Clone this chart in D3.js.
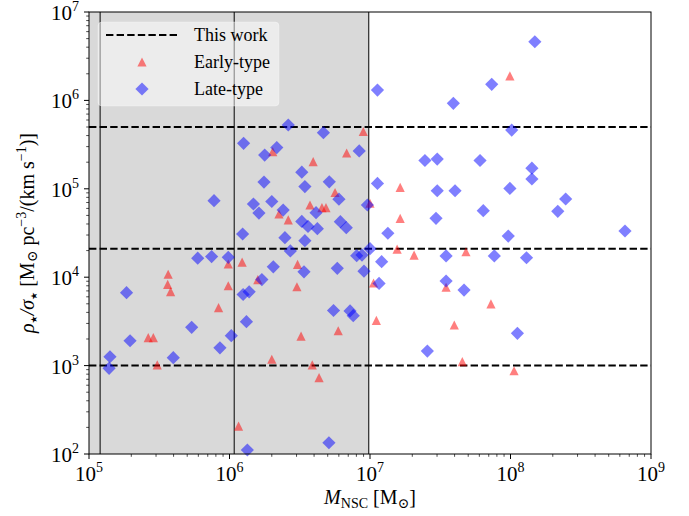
<!DOCTYPE html>
<html>
<head>
<meta charset="utf-8">
<script src="https://cdn.jsdelivr.net/npm/d3@7"></script>
<style>
  body { margin: 0; background: #fff; }
  text { font-family: "Liberation Serif", "DejaVu Serif", serif; fill: #000; }
</style>
</head>
<body>
<div id="chart"></div>
<script>
// early-type nuclei (triangles): mass [Msun], rho/sigma
var earlyMass = [9.9e7, 8.96e6, 2.03e6, 6.82e6, 3.94e6, 5.64e6, 3.74e6, 4.55e6, 4.86e6, 1.0e7,
  2.25e6, 2.62e6, 9.8e5, 1.23e6, 3.05e6, 3.66e5, 3.63e5, 3.81e5, 9.8e5, 1.59e6,
  3.02e6, 1.06e7, 8.36e5, 1.11e7, 2.64e5, 2.87e5, 3.23e6, 5.94e6, 3.06e5, 2.0e6,
  3.88e6, 4.34e6, 1.16e6, 1.64e7, 1.64e7, 1.56e7, 2.06e7, 4.82e7, 3.48e7, 7.26e7,
  3.98e7, 4.54e7, 1.06e8];
var earlyRho = [1.89e6, 4.45e5, 2.63e5, 2.54e5, 2.03e5, 9.08e4, 6.56e4, 6.14e4, 6.14e4, 6.86e4,
  5.19e4, 4.44e4, 1.41e4, 1.48e4, 1.40e4, 1.08e4, 8.3e3, 6.85e3, 8.0e3, 9.4e3,
  7.8e3, 8.6e3, 4.52e3, 3.25e3, 2.07e3, 2.07e3, 2.16e3, 2.48e3, 1.02e3, 1.18e3,
  1.02e3, 730, 207, 1.04e5, 4.64e4, 2.08e4, 1.78e4, 1.94e4, 7.7e3, 5.0e3,
  2.88e3, 1.11e3, 875];

// late-type nuclei (diamonds)
var lateMass = [1.49e8, 1.13e7, 7.35e7, 3.92e7, 1.02e8, 2.62e6, 4.66e6, 1.26e6, 1.78e6, 2.17e6,
  8.38e6, 2.46e7, 3.01e7, 6.07e7, 1.42e8, 1.42e8, 3.27e6, 1.76e6, 3.44e6, 5.13e6,
  1.13e7, 3.01e7, 4.03e7, 9.9e7, 2.47e8, 2.17e8, 6.4e7, 7.76e5, 1.48e6, 2.0e6,
  6.01e6, 9.58e6, 1.62e6, 2.41e6, 4.13e6, 2.95e7, 3.27e6, 3.62e6, 4.22e6, 6.15e6,
  6.78e6, 1.24e6, 2.48e6, 3.44e6, 1.34e7, 9.64e7, 6.53e8, 2.71e6, 1.0e7, 5.94e5,
  7.46e5, 9.8e5, 8.04e6, 8.77e6, 1.21e7, 3.48e7, 7.67e7, 1.3e8, 2.05e6, 3.39e6,
  5.85e6, 9.06e6, 1.85e5, 1.7e6, 1.16e7, 3.48e7, 4.67e7, 1.25e6, 1.38e6, 5.5e6,
  7.21e6, 7.6e6, 1.32e6, 5.38e5, 1.96e5, 1.03e6, 8.55e5, 1.41e5, 1.39e5, 3.98e5,
  1.12e8, 2.56e7, 1.34e6, 5.1e6];
var lateRho = [4.61e6, 1.31e6, 1.52e6, 9.27e5, 4.62e5, 5.27e5, 4.31e5, 3.27e5, 2.41e5, 2.93e5,
  2.68e5, 2.09e5, 2.17e5, 2.09e5, 1.71e5, 1.29e5, 1.54e5, 1.19e5, 1.06e5, 1.20e5,
  1.15e5, 9.5e4, 9.5e4, 1.01e5, 7.67e4, 5.56e4, 5.65e4, 7.33e4, 6.73e4, 7.18e4,
  7.63e4, 6.56e4, 5.32e4, 5.75e4, 5.37e4, 4.64e4, 4.27e4, 3.75e4, 3.54e4, 4.25e4,
  3.63e4, 3.08e4, 2.8e4, 2.59e4, 3.14e4, 2.92e4, 3.33e4, 1.98e4, 2.1e4, 1.64e4,
  1.71e4, 1.68e4, 1.75e4, 1.78e4, 1.5e4, 1.74e4, 1.74e4, 1.66e4, 1.31e4, 1.15e4,
  1.26e4, 1.17e4, 6.68e3, 9.4e3, 8.5e3, 9.06e3, 7.16e3, 6.37e3, 6.84e3, 4.2e3,
  4.15e3, 3.67e3, 3.14e3, 2.71e3, 1.91e3, 2.18e3, 1.59e3, 1.26e3, 932, 1.23e3,
  2.32e3, 1.46e3, 111, 134];

// "This work" levels and mass boundaries
var hLines = [5e5, 2.1e4, 1e3];
var vLines = [1.2e5, 1.08e6, 9.8e6];
var shadeTo = 9.8e6;

var xTicks = [1e5, 1e6, 1e7, 1e8, 1e9];
var yTicks = [1e2, 1e3, 1e4, 1e5, 1e6, 1e7];

var W = 689, H = 516;
var m = {left: 89, right: 38, top: 12, bottom: 62};

var svg = d3.select("#chart").append("svg")
  .attr("width", W).attr("height", H);

var x = d3.scaleLog().domain([1e5, 1e9]).range([m.left, W - m.right]);
var y = d3.scaleLog().domain([1e2, 1e7]).range([H - m.bottom, m.top]);

var plot = svg.append("g");

// grey region
plot.append("rect")
  .attr("x", x(1e5)).attr("y", y(1e7))
  .attr("width", x(shadeTo) - x(1e5))
  .attr("height", y(1e2) - y(1e7))
  .attr("fill", "#d9d9d9");

// vertical boundaries
plot.selectAll(".vl").data(vLines).enter().append("line")
  .attr("class", "vl")
  .attr("x1", d => x(d)).attr("x2", d => x(d))
  .attr("y1", y(1e7)).attr("y2", y(1e2))
  .attr("stroke", "#000").attr("stroke-width", 1);

// dashed levels
plot.selectAll(".hl").data(hLines).enter().append("line")
  .attr("class", "hl")
  .attr("x1", x(1e5)).attr("x2", x(1e9))
  .attr("y1", d => y(d)).attr("y2", d => y(d))
  .attr("stroke", "#000").attr("stroke-width", 2)
  .attr("stroke-dasharray", "7.4,3.2");

function triPath(s) {
  var p = d3.path();
  p.moveTo(0, -s); p.lineTo(-s, s); p.lineTo(s, s); p.closePath();
  return p.toString();
}
function diaPath(s) {
  var p = d3.path();
  p.moveTo(0, -s); p.lineTo(s, 0); p.lineTo(0, s); p.lineTo(-s, 0); p.closePath();
  return p.toString();
}

var early = earlyMass.map((v, i) => [v, earlyRho[i]]);
var late = lateMass.map((v, i) => [v, lateRho[i]]);

plot.selectAll(".early").data(early).enter().append("path")
  .attr("class", "early")
  .attr("d", triPath(4.6))
  .attr("transform", d => "translate(" + x(d[0]) + "," + y(d[1]) + ")")
  .attr("fill", "red").attr("fill-opacity", 0.5);

plot.selectAll(".late").data(late).enter().append("path")
  .attr("class", "late")
  .attr("d", diaPath(6.6))
  .attr("transform", d => "translate(" + x(d[0]) + "," + y(d[1]) + ")")
  .attr("fill", "blue").attr("fill-opacity", 0.5);

// frame
svg.append("rect")
  .attr("x", m.left).attr("y", m.top)
  .attr("width", W - m.left - m.right).attr("height", H - m.top - m.bottom)
  .attr("fill", "none").attr("stroke", "#000").attr("stroke-width", 1);

// ticks (log axes, major + minor)
function minors(lo, hi) {
  var out = [];
  for (var e = lo; e < hi; e++)
    for (var k = 2; k <= 9; k++) out.push(k * Math.pow(10, e));
  return out;
}
var ax = svg.append("g");
ax.selectAll(".xmaj").data(xTicks).enter().append("line")
  .attr("x1", d => x(d)).attr("x2", d => x(d))
  .attr("y1", H - m.bottom).attr("y2", H - m.bottom + 5)
  .attr("stroke", "#000");
ax.selectAll(".xmin").data(minors(5, 9)).enter().append("line")
  .attr("x1", d => x(d)).attr("x2", d => x(d))
  .attr("y1", H - m.bottom).attr("y2", H - m.bottom + 2.8)
  .attr("stroke", "#000").attr("stroke-width", 0.7);
ax.selectAll(".ymaj").data(yTicks).enter().append("line")
  .attr("x1", m.left - 5).attr("x2", m.left)
  .attr("y1", d => y(d)).attr("y2", d => y(d))
  .attr("stroke", "#000");
ax.selectAll(".ymin").data(minors(2, 7)).enter().append("line")
  .attr("x1", m.left - 2.8).attr("x2", m.left)
  .attr("y1", d => y(d)).attr("y2", d => y(d))
  .attr("stroke", "#000").attr("stroke-width", 0.7);

function powLabel(sel, d) {
  var e = Math.round(Math.log10(d));
  sel.append("tspan").text("10");
  sel.append("tspan").attr("dy", -9).attr("font-size", 14).text(e);
}
ax.selectAll(".xl").data(xTicks).enter().append("text")
  .attr("x", d => x(d)).attr("y", H - m.bottom + 27)
  .attr("text-anchor", "middle").attr("font-size", 21)
  .each(function(d) { powLabel(d3.select(this), d); });
ax.selectAll(".yl").data(yTicks).enter().append("text")
  .attr("x", m.left - 10).attr("y", d => y(d) + 8)
  .attr("text-anchor", "end").attr("font-size", 21)
  .each(function(d) { powLabel(d3.select(this), d); });

// axis labels
var xl = svg.append("text")
  .attr("x", 370).attr("y", 504)
  .attr("text-anchor", "middle").attr("font-size", 20);
xl.append("tspan").attr("font-style", "italic").text("M");
xl.append("tspan").attr("dy", 4).attr("font-size", 14).text("NSC");
xl.append("tspan").attr("dy", -4).text(" [M");
xl.append("tspan").attr("dy", 4).attr("font-size", 14).text("⊙");
xl.append("tspan").attr("dy", -4).text("]");

var yl = svg.append("text")
  .attr("transform", "translate(34," + ((m.top + H - m.bottom) / 2) + ") rotate(-90)")
  .attr("text-anchor", "middle").attr("font-size", 20);
yl.append("tspan").attr("font-style", "italic").text("ρ");
yl.append("tspan").attr("dy", 3).attr("font-size", 9).attr("font-family", "DejaVu Sans").text("★");
yl.append("tspan").attr("dy", -3).attr("font-style", "italic").text("/σ");
yl.append("tspan").attr("dy", 3).attr("font-size", 9).attr("font-family", "DejaVu Sans").text("★");
yl.append("tspan").attr("dy", -3).text(" [M");
yl.append("tspan").attr("dy", 3).attr("font-size", 14).text("⊙");
yl.append("tspan").attr("dy", -3).text(" pc");
yl.append("tspan").attr("dy", -8).attr("font-size", 14).text("−3");
yl.append("tspan").attr("dy", 8).text("/(km s");
yl.append("tspan").attr("dy", -8).attr("font-size", 14).text("−1");
yl.append("tspan").attr("dy", 8).text(")]");

// legend
var lg = svg.append("g").attr("transform", "translate(98,22)");
lg.append("rect")
  .attr("width", 181).attr("height", 84).attr("rx", 4)
  .attr("fill", "#fff").attr("fill-opacity", 0.5)
  .attr("stroke", "#fff").attr("stroke-opacity", 0.3);
lg.append("line")
  .attr("x1", 8).attr("x2", 79).attr("y1", 13).attr("y2", 13)
  .attr("stroke", "#000").attr("stroke-width", 2).attr("stroke-dasharray", "7.4,3.2");
lg.append("path").attr("d", triPath(4.6))
  .attr("transform", "translate(44,40)")
  .attr("fill", "red").attr("fill-opacity", 0.5);
lg.append("path").attr("d", diaPath(6.6))
  .attr("transform", "translate(44,67)")
  .attr("fill", "blue").attr("fill-opacity", 0.5);
var labels = ["This work", "Early-type", "Late-type"];
lg.selectAll(".lt").data(labels).enter().append("text")
  .attr("x", 96).attr("y", (d, i) => 19 + i * 27)
  .attr("font-size", 18).text(d => d);
</script>
</body>
</html>
